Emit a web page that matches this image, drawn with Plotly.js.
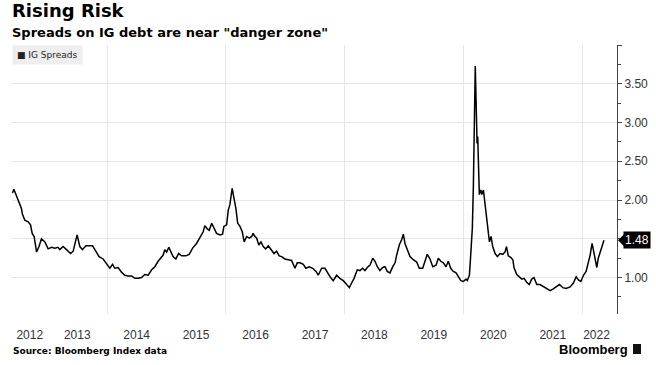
<!DOCTYPE html>
<html>
<head>
<meta charset="utf-8">
<script src="https://cdn.plot.ly/plotly-3.0.1.min.js"></script>
<style>html,body{margin:0;padding:0;background:#fff;}#chart{width:656px;height:365px;}</style>
</head>
<body>
<div id="chart"></div>
<script>
const dates = [
"2012-05-30","2012-06-07","2012-06-13","2012-06-27","2012-07-09","2012-07-24","2012-07-30","2012-08-14","2012-09-03","2012-09-18",
"2012-09-28","2012-10-10","2012-10-25","2012-11-09","2012-11-24","2012-12-15","2013-01-04","2013-01-25","2013-02-14","2013-03-06",
"2013-03-17","2013-04-06","2013-04-27","2013-05-22","2013-06-07","2013-06-19","2013-07-01","2013-07-18","2013-08-03","2013-08-24",
"2013-09-13","2013-10-04","2013-10-24","2013-11-13","2013-12-08","2013-12-29","2014-01-18","2014-02-04","2014-02-18","2014-03-10",
"2014-03-31","2014-04-20","2014-05-11","2014-06-01","2014-06-21","2014-07-11","2014-08-01","2014-08-21","2014-09-11","2014-10-02",
"2014-10-22","2014-11-11","2014-11-26","2014-12-12","2014-12-22","2015-01-02","2015-01-16","2015-01-26","2015-02-11","2015-02-28",
"2015-03-17","2015-04-04","2015-05-01","2015-05-21","2015-06-11","2015-07-05","2015-07-26","2015-08-15","2015-08-25","2015-09-08",
"2015-09-21","2015-10-06","2015-10-20","2015-11-05","2015-11-26","2015-12-12","2015-12-20","2016-01-06","2016-01-16","2016-01-26",
"2016-02-09","2016-02-20","2016-03-03","2016-03-14","2016-03-28","2016-04-11","2016-04-23","2016-05-08","2016-05-24","2016-06-08",
"2016-06-17","2016-06-28","2016-07-08","2016-07-22","2016-08-04","2016-08-18","2016-09-02","2016-09-18","2016-10-04","2016-10-23",
"2016-11-08","2016-11-24","2016-12-09","2016-12-29","2017-01-19","2017-02-08","2017-03-01","2017-03-15","2017-04-01","2017-04-21",
"2017-05-07","2017-05-28","2017-06-18","2017-07-08","2017-07-22","2017-08-12","2017-09-01","2017-09-22","2017-10-06","2017-10-22",
"2017-11-12","2017-12-02","2017-12-23","2018-01-13","2018-01-29","2018-02-12","2018-02-27","2018-03-19","2018-04-04","2018-04-21",
"2018-05-05","2018-05-19","2018-06-05","2018-06-22","2018-07-06","2018-07-20","2018-08-05","2018-08-22","2018-09-05","2018-09-19",
"2018-10-06","2018-10-23","2018-11-06","2018-11-16","2018-12-02","2018-12-17","2018-12-27","2019-01-06","2019-01-20","2019-02-06",
"2019-02-26","2019-03-19","2019-04-04","2019-04-25","2019-05-09","2019-05-23","2019-06-09","2019-06-26","2019-07-16","2019-07-30",
"2019-08-14","2019-08-30","2019-09-15","2019-09-29","2019-10-14","2019-10-30","2019-11-16","2019-11-30","2019-12-15","2019-12-31",
"2020-01-16","2020-01-24","2020-02-06","2020-02-14","2020-02-24","2020-03-01","2020-03-07","2020-03-13","2020-03-20","2020-03-24",
"2020-03-28","2020-04-03","2020-04-07","2020-04-16","2020-04-22","2020-05-02","2020-05-12","2020-05-23","2020-06-01","2020-06-08",
"2020-06-18","2020-06-28","2020-07-13","2020-07-27","2020-08-12","2020-08-29","2020-09-12","2020-09-21","2020-10-02","2020-10-17",
"2020-10-30","2020-11-06","2020-11-23","2020-12-09","2020-12-24","2021-01-07","2021-01-23","2021-02-08","2021-02-23","2021-03-09",
"2021-03-26","2021-04-15","2021-05-06","2021-05-26","2021-06-16","2021-07-03","2021-07-23","2021-08-12","2021-09-02","2021-09-22",
"2021-10-17","2021-11-06","2021-11-23","2021-12-07","2021-12-22","2022-01-07","2022-01-23","2022-02-04","2022-02-17","2022-03-01",
"2022-03-09","2022-03-19","2022-03-30","2022-04-08","2022-04-23","2022-05-05","2022-05-13"
];
const igSpreads = [
2.09,2.14,2.11,2.04,1.98,1.89,1.82,1.74,1.72,1.68,
1.57,1.53,1.33,1.40,1.50,1.46,1.37,1.39,1.38,1.39,
1.36,1.40,1.36,1.31,1.34,1.44,1.55,1.40,1.36,1.41,
1.41,1.41,1.34,1.27,1.24,1.17,1.12,1.17,1.12,1.13,
1.07,1.03,1.02,1.02,0.99,0.99,1.00,1.04,1.03,1.10,
1.14,1.21,1.25,1.29,1.36,1.33,1.39,1.34,1.27,1.24,
1.31,1.28,1.28,1.30,1.38,1.44,1.51,1.59,1.67,1.63,
1.61,1.70,1.64,1.57,1.55,1.56,1.66,1.68,1.87,1.94,
2.15,2.02,1.89,1.70,1.66,1.59,1.46,1.53,1.51,1.53,
1.57,1.53,1.51,1.42,1.46,1.40,1.37,1.41,1.36,1.31,
1.34,1.28,1.27,1.24,1.23,1.22,1.12,1.19,1.19,1.17,
1.12,1.14,1.12,1.08,1.03,1.12,1.12,1.04,1.00,0.96,
1.03,0.99,0.96,0.91,0.87,0.93,0.99,1.10,1.09,1.12,
1.09,1.13,1.16,1.25,1.21,1.14,1.09,1.13,1.14,1.08,
1.06,1.14,1.19,1.29,1.42,1.49,1.56,1.44,1.36,1.27,
1.23,1.20,1.12,1.12,1.21,1.30,1.24,1.14,1.16,1.25,
1.21,1.19,1.14,1.21,1.12,1.08,1.06,1.01,0.96,0.95,
0.98,0.96,1.03,1.29,1.64,2.15,3.01,3.73,3.10,2.73,
2.82,2.41,2.07,2.13,2.07,2.13,1.94,1.77,1.59,1.46,
1.53,1.40,1.31,1.27,1.31,1.30,1.33,1.40,1.28,1.26,
1.23,1.13,1.04,1.01,0.98,0.99,0.94,0.91,0.98,1.00,
0.91,0.91,0.88,0.86,0.83,0.85,0.88,0.91,0.87,0.86,
0.88,0.93,1.01,0.97,0.95,1.03,1.08,1.17,1.29,1.44,
1.36,1.23,1.13,1.25,1.36,1.43,1.48
];
const yearLabels = ["2012","2013","2014","2015","2016","2017","2018","2019","2020","2021","2022"];
const yearLabelDates = ["2012-09-13","2013-07-02","2014-07-02","2015-07-02","2016-07-02","2017-07-02","2018-07-02","2019-07-02","2020-07-02","2021-07-02","2022-03-28"];
const yTickVals = [1.0,1.5,2.0,2.5,3.0,3.5,4.0];
const yTickText = ["1.00","","2.00","2.50","3.00","3.50",""];
const seriesName = "IG Spreads";

const lastVal = igSpreads[igSpreads.length-1];

const trace = {
  x: dates, y: igSpreads, type: 'scatter', mode: 'lines', name: seriesName,
  line: {color: '#000000', width: 1.5}, showlegend: false, hoverinfo: 'skip'
};

const layout = {
  width: 656, height: 365,
  margin: {l: 12, r: 39, t: 45, b: 51},
  paper_bgcolor: '#ffffff', plot_bgcolor: '#ffffff',
  showlegend: false,
  font: {family: 'Liberation Sans, Arial, sans-serif', color: '#333333', size: 12},
  title: {
    text: 'Rising Risk', x: 12/656, xanchor: 'left', xref: 'container',
    y: 1 - 4/365, yanchor: 'top', yref: 'container',
    font: {family: 'DejaVu Sans', size: 18, color: '#000000', weight: 'bold'}
  },
  xaxis: {
    type: 'date', range: ['2012-05-27', '2022-08-01'],
    tickmode: 'array', tickvals: yearLabelDates, ticktext: yearLabels,
    ticks: 'outside', ticklen: 10, tickcolor: 'rgba(0,0,0,0)',
    showgrid: false, zeroline: false, showline: false,
    tickfont: {family: 'Liberation Sans, Arial, sans-serif', size: 12, color: '#333333'},
    minor: {tick0: '2014-01-01', dtick: 'M24', showgrid: true, gridcolor: '#e6e6e6', gridwidth: 1, ticks: ''}
  },
  yaxis: {
    side: 'right', range: [0.53, 4.0],
    tickmode: 'array', tickvals: yTickVals, ticktext: yTickText,
    ticks: 'outside', ticklen: 4, tickcolor: '#444444',
    showline: true, linecolor: '#444444', linewidth: 1,
    showgrid: true, gridcolor: '#e6e6e6', gridwidth: 1, zeroline: false,
    tickfont: {family: 'Liberation Sans, Arial, sans-serif', size: 12, color: '#333333'},
    minor: {dtick: 0.25, tick0: 0, ticks: 'outside', ticklen: 3, tickcolor: '#444444', showgrid: false}
  },
  annotations: [
    {text: 'Spreads on IG debt are near "danger zone"', xref: 'paper', yref: 'paper', x: 0, y: (314-23)/269,
     xanchor: 'left', yanchor: 'top', xshift: -2, showarrow: false,
     font: {family: 'DejaVu Sans', size: 13, color: '#000000', weight: 'bold'}},
    {text: '■ ' + seriesName, xref: 'paper', yref: 'paper', x: 0, y: 1, xanchor: 'left', yanchor: 'top',
     showarrow: false, bgcolor: '#eeeeee', borderpad: 4,
     font: {family: 'DejaVu Sans', size: 9, color: '#222222'}},
    {text: lastVal.toFixed(2), xref: 'paper', yref: 'y', x: 1, y: lastVal, xanchor: 'left', yanchor: 'middle',
     xshift: 6, showarrow: false, bgcolor: '#000000', borderpad: 1,
     font: {family: 'Liberation Sans, Arial, sans-serif', size: 12, color: '#ffffff'}},
    {text: 'Source: Bloomberg Index data', xref: 'paper', yref: 'paper', x: 0, y: (314-351)/269,
     xanchor: 'left', yanchor: 'middle', xshift: -1, showarrow: false,
     font: {family: 'DejaVu Sans', size: 9, color: '#000000', weight: 'bold'}},
    {text: 'Bloomberg', xref: 'paper', yref: 'paper', x: (630-12)/605, y: (314-349)/269,
     xanchor: 'right', yanchor: 'middle', showarrow: false,
     font: {family: 'Liberation Sans, Arial, sans-serif', size: 13, color: '#000000', weight: 'bold'}}
  ],
  shapes: [
    {type: 'path', xref: 'paper', yref: 'y', xsizemode: 'pixel', ysizemode: 'pixel', xanchor: 1, yanchor: lastVal,
     path: 'M 1,0 L 7,6 L 7,-6 Z', fillcolor: '#000000', line: {width: 0}},
    {type: 'rect', xref: 'paper', yref: 'paper', x0: (633-12)/605, x1: (641-12)/605, y0: (314-354)/269, y1: (314-344)/269,
     fillcolor: '#111111', line: {width: 0}}
  ]
};

Plotly.newPlot('chart', [trace], layout, {displayModeBar: false, staticPlot: true});
</script>
</body>
</html>
